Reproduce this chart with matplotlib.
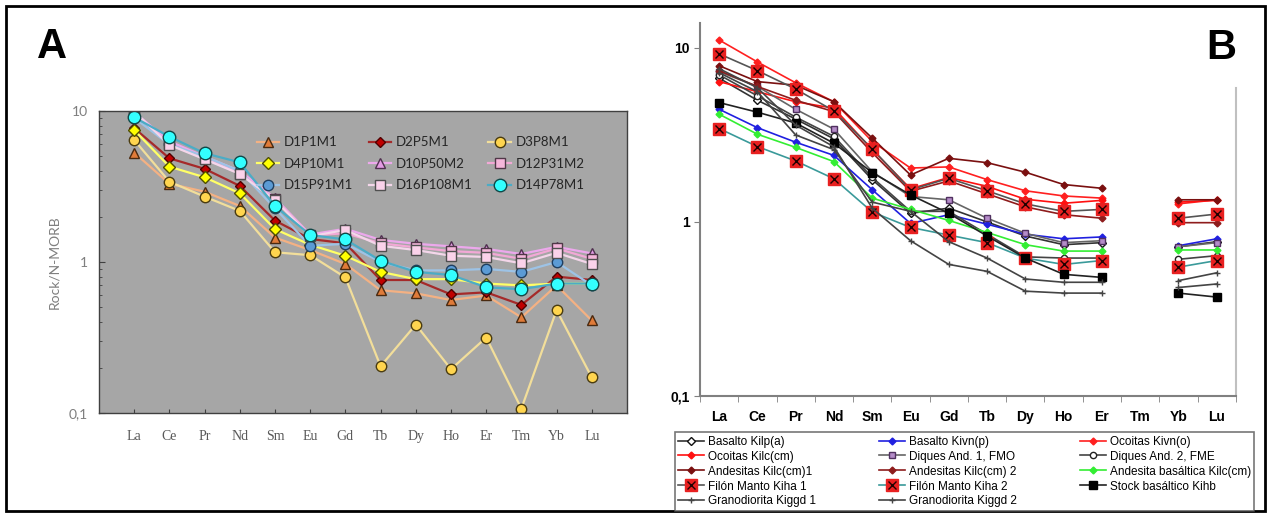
import numpy as np
import matplotlib.pyplot as plt
from matplotlib.patches import Rectangle
from matplotlib.ticker import FixedLocator, FixedFormatter, NullFormatter, LogLocator

nan = np.nan

# Elementos (tierras raras)
elementos = ["La", "Ce", "Pr", "Nd", "Sm", "Eu", "Gd", "Tb", "Dy", "Ho", "Er", "Tm", "Yb", "Lu"]

# -----------------------------------------------------------
# DATOS PANEL A (Rock / N-MORB)
# -----------------------------------------------------------
nombres_a = ["D1P1M1", "D2P5M1", "D3P8M1",
             "D4P10M1", "D10P50M2", "D12P31M2",
             "D15P91M1", "D16P108M1", "D14P78M1"]

d1p1m1 = [5.3, 3.3, 2.92, 2.35, 1.45, 1.20, 0.97, 0.65, 0.62, 0.56, 0.60, 0.43, 0.70, 0.41]
d2p5m1 = [7.7, 4.86, 4.14, 3.19, 1.88, 1.42, 1.33, 0.76, 0.76, 0.61, 0.63, 0.52, 0.80, 0.76]
d3p8m1 = [6.43, 3.40, 2.71, 2.18, 1.16, 1.11, 0.79, 0.204, 0.385, 0.195, 0.316, 0.107, 0.48, 0.172]
d4p10m1 = [7.48, 4.28, 3.64, 2.85, 1.65, 1.30, 1.10, 0.86, 0.77, 0.77, 0.72, 0.70, 0.72, 0.72]
d10p50m2 = [9.8, 6.3, 5.0, 4.0, 2.65, 1.52, 1.66, 1.40, 1.32, 1.27, 1.22, 1.13, 1.26, 1.14]
d12p31m2 = [9.7, 6.0, 4.85, 3.85, 2.6, 1.50, 1.55, 1.33, 1.25, 1.18, 1.15, 1.05, 1.23, 1.05]
d15p91m1 = [9.0, 6.0, 5.0, 4.0, 2.27, 1.28, 1.32, 1.0, 0.88, 0.88, 0.90, 0.86, 1.00, 0.70]
d16p108m1 = [9.9, 5.96, 4.79, 3.83, 2.57, 1.48, 1.63, 1.28, 1.20, 1.10, 1.08, 0.98, 1.15, 0.97]
d14p78m1 = [9.08, 6.76, 5.25, 4.57, 2.35, 1.51, 1.41, 1.02, 0.86, 0.82, 0.68, 0.66, 0.72, 0.72]

valores_a = [d1p1m1, d2p5m1, d3p8m1, d4p10m1, d10p50m2, d12p31m2, d15p91m1, d16p108m1, d14p78m1]

# -----------------------------------------------------------
# DATOS PANEL B
# -----------------------------------------------------------
nombres_b = ["Basalto Kilp(a)", "Basalto Kivn(p)", "Ocoitas Kivn(o)",
             "Ocoitas Kilc(cm)", "Diques And. 1, FMO", "Diques And. 2, FME",
             "Andesitas Kilc(cm)1", "Andesitas Kilc(cm) 2", "Andesita basáltica Kilc(cm)",
             "Filón Manto Kiha 1", "Filón Manto Kiha 2", "Stock basáltico Kihb",
             "Granodiorita Kiggd 1", "Granodiorita Kiggd 2"]

basalto_kilp = [6.7, 5.0, 3.9, 3.0, 1.75, 1.12, 1.20, 1.00, 0.83, 0.74, 0.76, nan, 0.72, 0.77]
basalto_kivn = [4.44, 3.48, 2.87, 2.41, 1.53, 0.98, 1.10, 0.97, 0.85, 0.80, 0.82, nan, 0.73, 0.80]
ocoitas_kivn = [11.1, 8.3, 6.3, 4.9, 2.9, 2.04, 2.07, 1.75, 1.51, 1.41, 1.37, nan, 1.27, 1.34]
ocoitas_kilc = [6.4, 5.6, 4.9, 4.5, 2.6, 1.55, 1.80, 1.60, 1.35, 1.28, 1.33, nan, 1.30, 1.33]
diques_1 = [7.3, 6.0, 4.44, 3.41, 1.94, 1.40, 1.34, 1.05, 0.86, 0.76, 0.78, nan, 0.72, 0.76]
diques_2 = [7.0, 5.3, 4.0, 3.1, 1.80, 1.15, 1.15, 0.85, 0.63, 0.62, 0.62, nan, 0.61, 0.64]
andesitas_1 = [7.9, 6.4, 6.1, 4.9, 3.03, 1.86, 2.32, 2.19, 1.93, 1.64, 1.56, nan, 1.34, 1.34]
andesitas_2 = [7.4, 6.0, 5.0, 4.3, 2.5, 1.50, 1.72, 1.45, 1.22, 1.10, 1.05, nan, 0.99, 0.99]
andesita_bas = [4.16, 3.19, 2.68, 2.22, 1.37, 1.18, 1.02, 0.87, 0.74, 0.68, 0.68, nan, 0.69, 0.69]
filon_1 = [9.24, 7.4, 5.8, 4.34, 2.63, 1.53, 1.78, 1.51, 1.27, 1.15, 1.18, nan, 1.05, 1.11]
filon_2 = [3.44, 2.71, 2.24, 1.77, 1.14, 0.93, 0.84, 0.76, 0.62, 0.57, 0.60, nan, 0.55, 0.60]
stock = [4.85, 4.27, 3.7, 2.83, 1.92, 1.43, 1.12, 0.83, 0.62, 0.50, 0.48, nan, 0.39, 0.37]
granodiorita_1 = [7.2, 5.6, 3.16, 2.6, 1.30, 1.15, 0.77, 0.62, 0.47, 0.45, 0.45, nan, 0.46, 0.51]
granodiorita_2 = [7.6, 5.9, 3.6, 2.7, 1.20, 0.78, 0.57, 0.52, 0.40, 0.39, 0.39, nan, 0.42, 0.44]

valores_b = [basalto_kilp, basalto_kivn, ocoitas_kivn, ocoitas_kilc, diques_1, diques_2,
             andesitas_1, andesitas_2, andesita_bas, filon_1, filon_2, stock,
             granodiorita_1, granodiorita_2]

# -----------------------------------------------------------
# ESTILOS
# -----------------------------------------------------------
# (color linea, marcador, relleno, borde, tamaño)
estilos_a = [
    ("#F4B183", "^", "#E07B39", "#4A2A10", 7),
    ("#A52A2A", "D", "#C00000", "#500000", 5.5),
    ("#F2DE9A", "o", "#FFD54F", "#4A3C10", 7.5),
    ("#FFFF66", "D", "#FFFF00", "#505000", 6),
    ("#ECA8EC", "^", "#E39BE3", "#503050", 7),
    ("#F2A8D6", "s", "#F4B6DA", "#503848", 7.5),
    ("#9DC3E6", "o", "#5B9BD5", "#1F3F60", 7.5),
    ("#F4D6EA", "s", "#FAD2EA", "#505050", 7.5),
    ("#4BACC6", "o", "#33FFFF", "#104848", 9),
]

estilos_b = [
    ("#333333", "D", "white", "#111111", 4.5),
    ("#2020E0", "D", "#2020E0", "#2020E0", 3.5),
    ("#FF2020", "D", "#FF2020", "#FF2020", 3.5),
    ("#FF1010", "D", "#FF1010", "#FF1010", 3.5),
    ("#666666", "s", "#B48CC8", "#503060", 4.5),
    ("#444444", "o", "white", "#222222", 4.5),
    ("#7A1010", "D", "#7A1010", "#7A1010", 3.5),
    ("#8E1C1C", "D", "#8E1C1C", "#8E1C1C", 3.5),
    ("#33EE33", "D", "#33EE33", "#33EE33", 3.5),
    ("#555555", "s", "#E82020", "#E82020", 9),
    ("#3A9A9A", "s", "#E82020", "#E82020", 9),
    ("#222222", "s", "#000000", "#000000", 5.5),
    ("#444444", "+", "#444444", "#444444", 5),
    ("#444444", "+", "#444444", "#444444", 5),
]


def orden_columnas(lista, ncol):
    # matplotlib llena la leyenda por columnas; la referencia va por filas
    nfil = int(np.ceil(len(lista) / ncol))
    return [lista[f * ncol + c] for c in range(ncol) for f in range(nfil) if f * ncol + c < len(lista)]


# -----------------------------------------------------------
# FIGURA
# -----------------------------------------------------------
fig = plt.figure(figsize=(12.71, 5.16), dpi=100)
x = np.arange(len(elementos))

# Marco exterior
fig.patches.append(Rectangle((0.005, 0.01), 0.99, 0.978, transform=fig.transFigure,
                             fill=False, edgecolor="black", linewidth=2))

# ---------------- PANEL A ----------------
axa = fig.add_axes([0.0779, 0.1996, 0.4154, 0.5853])
axa.set_facecolor("#A6A6A6")
axa.set_yscale("log")
axa.set_ylim(0.1, 10)
axa.set_xlim(-1, 14)

handles_a = []
for nombre, vals, (lc, mk, fc, ec, ms) in zip(nombres_a, valores_a, estilos_a):
    h, = axa.plot(x, vals, color=lc, linewidth=1.6, marker=mk, markerfacecolor=fc,
                  markeredgecolor=ec, markersize=ms, markeredgewidth=1.0, label=nombre)
    handles_a.append(h)

axa.set_xticks(x)
axa.set_xticklabels(elementos, family="Liberation Serif", fontsize=10, color="#595959")
axa.set_yticks([0.1, 1, 10])
axa.set_yticklabels(["0,1", "1", "10"], family="Lato", fontsize=10, color="#7F7F7F")
axa.yaxis.set_minor_locator(LogLocator(base=10, subs=np.arange(2, 10)))
axa.yaxis.set_minor_formatter(NullFormatter())
axa.tick_params(axis="y", which="major", direction="in", length=4, color="#404040", pad=8)
axa.tick_params(axis="y", which="minor", direction="in", length=2.5, color="#404040")
axa.tick_params(axis="x", direction="in", length=3, color="#404040", pad=12)
axa.set_ylabel("Rock/N-MORB", family="Lato", fontsize=10, color="#7F7F7F", labelpad=6)
for s in axa.spines.values():
    s.set_color("#404040")
    s.set_linewidth(1)

leg_a = axa.legend(orden_columnas(handles_a, 3), orden_columnas(nombres_a, 3), ncol=3,
                   loc="upper left", bbox_to_anchor=(0.276, 0.955), frameon=False,
                   prop={"family": "Lato", "size": 9.5}, handlelength=1.7,
                   columnspacing=1.2, labelspacing=0.72, handletextpad=0.35)
for t in leg_a.get_texts():
    t.set_color("#262626")

fig.text(0.041, 0.909, "A", fontsize=30, fontweight="bold", family="Liberation Sans",
         ha="center", va="center")

# ---------------- PANEL B ----------------
axb = fig.add_axes([0.5507, 0.2326, 0.4217, 0.7229])
axb.set_yscale("log")
axb.set_ylim(0.1, 13.9)
axb.set_xlim(-0.5, 13.5)

handles_b = []
for i, (nombre, vals, (lc, mk, fc, ec, ms)) in enumerate(zip(nombres_b, valores_b, estilos_b)):
    h, = axb.plot(x, vals, color=lc, linewidth=1.2, marker=mk, markerfacecolor=fc,
                  markeredgecolor=ec, markersize=ms, markeredgewidth=1.0, label=nombre)
    if nombre.startswith("Filón"):
        hx, = axb.plot(x, vals, linestyle="none", marker="x", color="#200000",
                       markersize=6, markeredgewidth=1.0)
        handles_b.append((h, hx))
    else:
        handles_b.append(h)

axb.xaxis.set_major_locator(FixedLocator(x))
axb.xaxis.set_major_formatter(FixedFormatter(elementos))
axb.xaxis.set_minor_locator(FixedLocator(np.arange(-0.5, 14, 1)))
axb.tick_params(axis="x", which="major", length=0, pad=10)
axb.tick_params(axis="x", which="minor", length=4, color="#808080", direction="out")
for lab in axb.get_xticklabels():
    lab.set_fontweight("bold")
    lab.set_family("Liberation Sans")
    lab.set_fontsize(10)

axb.set_yticks([0.1, 1, 10])
axb.set_yticklabels(["0,1", "1", "10"], family="Liberation Sans", fontsize=10, fontweight="bold")
axb.yaxis.set_minor_locator(FixedLocator([]))
axb.tick_params(axis="y", which="major", length=4, color="#808080", direction="out")

axb.spines["top"].set_visible(False)
axb.spines["left"].set_color("#808080")
axb.spines["bottom"].set_color("#808080")
axb.spines["left"].set_linewidth(1.5)
axb.spines["bottom"].set_linewidth(1.5)
axb.spines["right"].set_color("#C0C0C0")
axb.spines["right"].set_linewidth(1.5)
axb.spines["right"].set_bounds(0.1, 5.9)

leg_b = fig.legend(orden_columnas(handles_b, 3), orden_columnas(nombres_b, 3), ncol=3,
                   loc="lower left", bbox_to_anchor=(0.531, 0.0097, 0.456, 0.169),
                   mode="expand", frameon=True, fancybox=False,
                   prop={"family": "Liberation Sans", "size": 8.5}, handlelength=2.2,
                   labelspacing=0.25, handletextpad=0.3, borderpad=0.3, borderaxespad=0)
leg_b.get_frame().set_edgecolor("#555555")
leg_b.get_frame().set_linewidth(1.2)

fig.text(0.961, 0.907, "B", fontsize=30, fontweight="bold", family="Liberation Sans",
         ha="center", va="center")

fig.savefig("out.png", dpi=100)
